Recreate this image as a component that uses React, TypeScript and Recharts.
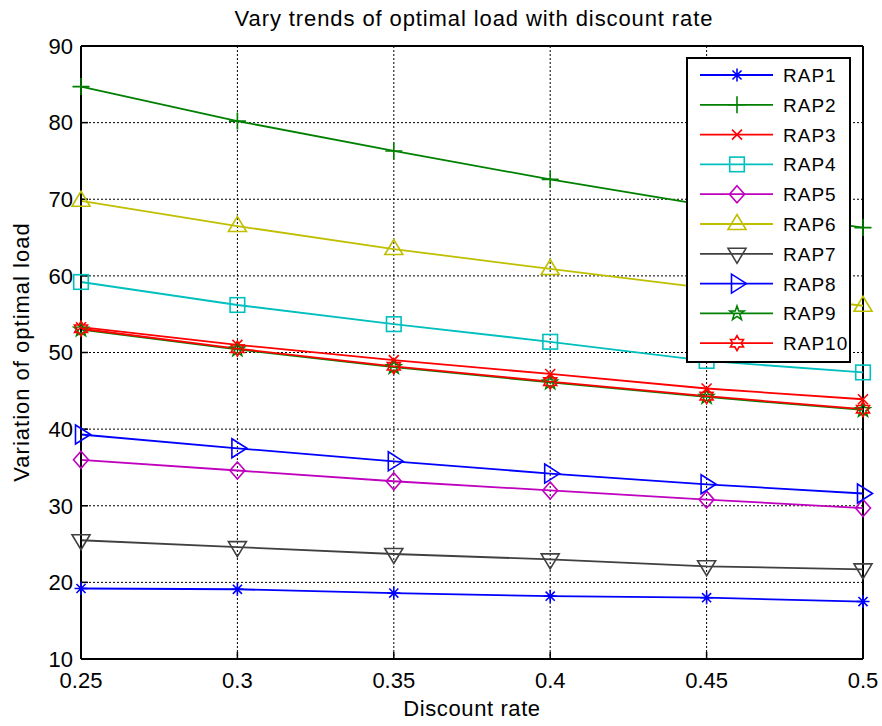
import React from "react";
import {
  LineChart,
  Line,
  XAxis,
  YAxis,
  CartesianGrid,
  ReferenceLine,
} from "recharts";

// discount rate values on the x axis
const discountRates = [0.25, 0.3, 0.35, 0.4, 0.45, 0.5];
const yTicks = [10, 20, 30, 40, 50, 60, 70, 80, 90];

// optimal load per RAP
const rap1 = [19.2, 19.1, 18.6, 18.2, 18.0, 17.5];
const rap2 = [84.7, 80.2, 76.3, 72.6, 69.2, 66.3];
const rap3 = [53.3, 51.0, 49.0, 47.2, 45.3, 43.9];
const rap4 = [59.2, 56.2, 53.7, 51.4, 48.9, 47.4];
const rap5 = [36.0, 34.6, 33.2, 32.0, 30.8, 29.7];
const rap6 = [69.8, 66.5, 63.5, 60.9, 58.4, 56.1];
const rap7 = [25.5, 24.6, 23.7, 23.0, 22.1, 21.7];
const rap8 = [39.3, 37.5, 35.8, 34.2, 32.8, 31.6];
const rap9 = [53.0, 50.4, 48.1, 46.1, 44.2, 42.5];
const rap10 = [53.1, 50.5, 48.2, 46.2, 44.3, 42.6];

const seriesValues = [rap1, rap2, rap3, rap4, rap5, rap6, rap7, rap8, rap9, rap10];
const seriesNames = ["RAP1", "RAP2", "RAP3", "RAP4", "RAP5", "RAP6", "RAP7", "RAP8", "RAP9", "RAP10"];

type Shape =
  | "asterisk" | "plus" | "cross" | "square" | "diamond"
  | "triUp" | "triDown" | "triRight" | "pentagram" | "hexagram";

const seriesStyle: { color: string; shape: Shape }[] = [
  { color: "#0000FF", shape: "asterisk" },
  { color: "#008000", shape: "plus" },
  { color: "#FF0000", shape: "cross" },
  { color: "#00BFBF", shape: "square" },
  { color: "#BF00BF", shape: "diamond" },
  { color: "#BFBF00", shape: "triUp" },
  { color: "#404040", shape: "triDown" },
  { color: "#0000FF", shape: "triRight" },
  { color: "#008000", shape: "pentagram" },
  { color: "#FF0000", shape: "hexagram" },
];

const data = discountRates.map((x, i) => {
  const row: Record<string, number> = { x };
  seriesNames.forEach((name, s) => {
    row[name] = seriesValues[s][i];
  });
  return row;
});

const FONT = "'Liberation Sans', Arial, Helvetica, sans-serif";

function starPoints(cx: number, cy: number, n: number, outer: number, inner: number) {
  const pts: string[] = [];
  for (let k = 0; k < n * 2; k++) {
    const r = k % 2 === 0 ? outer : inner;
    const a = -Math.PI / 2 + (k * Math.PI) / n;
    pts.push(`${cx + r * Math.cos(a)},${cy + r * Math.sin(a)}`);
  }
  return pts.join(" ");
}

function Marker({ shape, cx, cy, color }: { shape: Shape; cx: number; cy: number; color: string }) {
  const common = { fill: "none", stroke: color, strokeWidth: 1.6 };
  switch (shape) {
    case "asterisk": {
      const r = 6.5;
      const d = r * 0.7;
      return (
        <path {...common} d={`M${cx - r},${cy}H${cx + r}M${cx},${cy - r}V${cy + r}M${cx - d},${cy - d}L${cx + d},${cy + d}M${cx - d},${cy + d}L${cx + d},${cy - d}`} />
      );
    }
    case "plus": {
      const r = 8.5;
      return <path {...common} d={`M${cx - r},${cy}H${cx + r}M${cx},${cy - r}V${cy + r}`} />;
    }
    case "cross": {
      const r = 5;
      return <path {...common} d={`M${cx - r},${cy - r}L${cx + r},${cy + r}M${cx - r},${cy + r}L${cx + r},${cy - r}`} />;
    }
    case "square":
      return <rect {...common} x={cx - 7.3} y={cy - 7.3} width={14.6} height={14.6} />;
    case "diamond":
      return <polygon {...common} points={`${cx},${cy - 8.5} ${cx + 7.5},${cy} ${cx},${cy + 8.5} ${cx - 7.5},${cy}`} />;
    case "triUp":
      return <polygon {...common} points={`${cx},${cy - 9.5} ${cx + 9},${cy + 5.5} ${cx - 9},${cy + 5.5}`} />;
    case "triDown":
      return <polygon {...common} points={`${cx},${cy + 9.5} ${cx + 9},${cy - 5.5} ${cx - 9},${cy - 5.5}`} />;
    case "triRight":
      return <polygon {...common} points={`${cx + 9.5},${cy} ${cx - 5.5},${cy - 9.5} ${cx - 5.5},${cy + 9.5}`} />;
    case "pentagram":
      return <polygon {...common} points={starPoints(cx, cy, 5, 7.5, 3)} />;
    case "hexagram":
      return <polygon {...common} points={starPoints(cx, cy, 6, 7.5, 4.3)} />;
  }
  return null;
}

function LegendBox() {
  const rowH = 29.8;
  return (
    <div
      style={{
        position: "absolute",
        left: 686,
        top: 57,
        width: 161,
        height: 302,
        background: "#fff",
        border: "2px solid #000",
      }}
    >
      <svg width={161} height={302} style={{ display: "block" }}>
        {seriesNames.map((name, i) => {
          const y = 16 + i * rowH;
          const st = seriesStyle[i];
          return (
            <g key={name}>
              <line x1={12} x2={85} y1={y} y2={y} stroke={st.color} strokeWidth={1.8} />
              <Marker shape={st.shape} cx={49} cy={y} color={st.color} />
              <text x={95} y={y + 7} fontSize={19} fontFamily={FONT} fill="#000" letterSpacing={1}>
                {name}
              </text>
            </g>
          );
        })}
      </svg>
    </div>
  );
}

export default function App() {
  const tickStyle = { fill: "#000", fontSize: 22, fontFamily: FONT };
  return (
    <div style={{ position: "absolute", left: 0, top: 0, width: 882, height: 726, background: "#fff" }}>
      <LineChart
        width={882}
        height={726}
        data={data}
        margin={{ top: 46, right: 19, left: 0, bottom: 0 }}
        style={{ fontFamily: FONT }}
      >
        <CartesianGrid stroke="#000" strokeDasharray="2 2" strokeWidth={1} />
        <XAxis
          dataKey="x"
          type="number"
          domain={[0.25, 0.5]}
          ticks={discountRates}
          tickFormatter={(v: number) => String(v)}
          height={67}
          axisLine={{ stroke: "#000", strokeWidth: 2 }}
          tickLine={{ stroke: "#000", strokeWidth: 1.5 }}
          tickSize={-7}
          tickMargin={20}
          tick={tickStyle}
          interval={0}
        />
        <XAxis
          xAxisId="top"
          orientation="top"
          type="number"
          domain={[0.25, 0.5]}
          ticks={discountRates}
          allowDataOverflow
          height={0}
          axisLine={{ stroke: "#000", strokeWidth: 2 }}
          tickLine={{ stroke: "#000", strokeWidth: 1.5 }}
          tickSize={-7}
          tick={false}
        />
        <YAxis
          type="number"
          domain={[10, 90]}
          ticks={yTicks}
          width={81}
          axisLine={{ stroke: "#000", strokeWidth: 2 }}
          tickLine={{ stroke: "#000", strokeWidth: 1.5 }}
          tickSize={-7}
          tickMargin={15}
          tick={tickStyle}
          interval={0}
        />
        <YAxis
          yAxisId="right"
          orientation="right"
          type="number"
          domain={[10, 90]}
          ticks={yTicks}
          allowDataOverflow
          width={0}
          axisLine={{ stroke: "#000", strokeWidth: 2 }}
          tickLine={{ stroke: "#000", strokeWidth: 1.5 }}
          tickSize={-7}
          tick={false}
        />
        <ReferenceLine y={90} stroke="#000" strokeWidth={2} />
        <ReferenceLine x={0.5} stroke="#000" strokeWidth={2} />
        {seriesNames.map((name, i) => {
          const st = seriesStyle[i];
          return (
            <Line
              key={name}
              dataKey={name}
              type="linear"
              stroke={st.color}
              strokeWidth={1.8}
              isAnimationActive={false}
              activeDot={false}
              dot={(p: any) => (
                <Marker key={`${name}-${p.index}`} shape={st.shape} cx={p.cx} cy={p.cy} color={st.color} />
              )}
            />
          );
        })}
      </LineChart>
      <div
        style={{
          position: "absolute",
          left: 0,
          width: 948,
          top: 4,
          textAlign: "center",
          fontFamily: FONT,
          fontSize: 22,
          letterSpacing: 0.9,
          color: "#000",
          lineHeight: "30px",
        }}
      >
        Vary trends of optimal load with discount rate
      </div>
      <div
        style={{
          position: "absolute",
          left: 0,
          width: 944,
          top: 694,
          textAlign: "center",
          fontFamily: FONT,
          fontSize: 22,
          letterSpacing: 0.6,
          color: "#000",
          lineHeight: "30px",
        }}
      >
        Discount rate
      </div>
      <div
        style={{
          position: "absolute",
          left: 22 - 200,
          top: 352 - 15,
          width: 400,
          height: 30,
          lineHeight: "30px",
          textAlign: "center",
          fontFamily: FONT,
          fontSize: 22,
          letterSpacing: 1,
          color: "#000",
          transform: "rotate(-90deg)",
        }}
      >
        Variation of optimal load
      </div>
      <LegendBox />
    </div>
  );
}
